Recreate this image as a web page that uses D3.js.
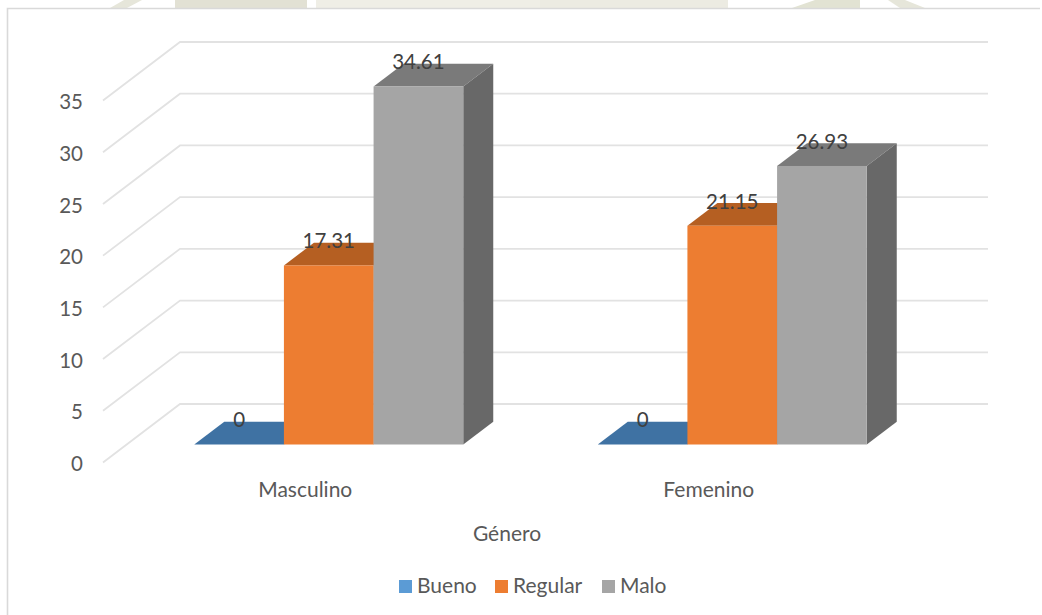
<!DOCTYPE html>
<html>
<head>
<meta charset="utf-8">
<script src="https://d3js.org/d3.v7.min.js"></script>
<style>
  html, body { margin: 0; padding: 0; background: #fff; }
  svg { display: block; font-family: Lato, sans-serif; }
</style>
</head>
<body>
<svg width="1042" height="615"></svg>
<script>
var categories = ["Masculino", "Femenino"];
var series = ["Bueno", "Regular", "Malo"];
var bueno = [0, 0];
var regular = [17.31, 21.15];
var malo = [34.61, 26.93];
var seriesValues = [bueno, regular, malo];
var yTicks = [0, 5, 10, 15, 20, 25, 30, 35];
var axisTitle = "Género";

var frontColor = ["#5b9bd5", "#ed7d31", "#a5a5a5"];
var topColor = ["#3f72a3", "#b55f22", "#7a7a7a"];
var sideColor = ["#35618b", "#a1541e", "#686868"];
var labelSize = 20.5;

var svg = d3.select("svg");

// three planes of the box: bar fronts, back wall, and the left edge of the floor
var depthX = 30, depthY = 22.8;
var yBar = d3.scaleLinear().domain([0, 35]).range([444.5, 82.5]);
var yWall = d3.scaleLinear().domain([0, 35]).range([404, 42]);
var yEdge = d3.scaleLinear().domain([0, 35]).range([462.5, 100.5]);
var wallLeft = 180, wallRight = 988, edgeLeft = 103;

var x0 = d3.scaleBand().domain(categories).range([127, 934]);
var x1 = d3.scaleBand().domain(series)
  .range([x0.bandwidth() / 2 - 134.5, x0.bandwidth() / 2 + 134.5]);

// header band that shows above the chart frame
var strip = svg.append("g");
strip.append("polygon").attr("points", "110,8 127,8 142,0 124,0").attr("fill", "#e6e6da");
strip.append("rect").attr("x", 175).attr("y", 0).attr("width", 132).attr("height", 8).attr("fill", "#e2e1d4");
strip.append("rect").attr("x", 316).attr("y", 0).attr("width", 224).attr("height", 8).attr("fill", "#efeee6");
strip.append("rect").attr("x", 540).attr("y", 0).attr("width", 188).attr("height", 8).attr("fill", "#ecebe2");
strip.append("polygon").attr("points", "792,8 860,8 860,0 815,0").attr("fill", "#e2e3d3");
strip.append("polygon").attr("points", "900,8 925,8 905,0 888,0").attr("fill", "#e6e6da");

// chart frame (top and left edges only reach the window)
svg.append("path")
  .attr("d", "M7.5,615V8.5H1040")
  .attr("fill", "none")
  .attr("stroke", "#d9d9d9")
  .attr("stroke-width", 1.6);

// gridlines bent along the side wall
svg.append("g").selectAll("path")
  .data(yTicks)
  .join("path")
  .attr("d", function (d) {
    return "M" + edgeLeft + "," + yEdge(d) + "L" + wallLeft + "," + yWall(d) + "H" + wallRight;
  })
  .attr("fill", "none")
  .attr("stroke", "#e2e2e2")
  .attr("stroke-width", 1.8);

// value axis labels
var yAxis = svg.append("g")
  .attr("transform", "translate(83,0)")
  .call(d3.axisLeft(yEdge).tickValues(yTicks).tickSize(0).tickPadding(0));
yAxis.select(".domain").remove();
yAxis.selectAll("text")
  .attr("dy", "0.4em")
  .attr("font-family", "Lato, sans-serif")
  .attr("font-size", labelSize)
  .attr("fill", "#595959");

// bars, one group per category
categories.forEach(function (cat, c) {
  var g = svg.append("g").attr("transform", "translate(" + x0(cat) + ",0)");
  series.forEach(function (s, i) {
    var v = seriesValues[i][c];
    var l = x1(s), r = l + x1.bandwidth();
    var yt = yBar(v), yb = yBar(0);
    g.append("polygon")
      .attr("points", [[l, yt], [l + depthX, yt - depthY], [r + depthX, yt - depthY], [r, yt]].join(" "))
      .attr("fill", topColor[i]);
    g.append("polygon")
      .attr("points", [[r, yt], [r + depthX, yt - depthY], [r + depthX, yb - depthY], [r, yb]].join(" "))
      .attr("fill", sideColor[i]);
    g.append("rect")
      .attr("x", l)
      .attr("y", yt)
      .attr("width", x1.bandwidth())
      .attr("height", yb - yt)
      .attr("fill", frontColor[i]);
  });
});

// value labels sit on the back edge of each bar top
categories.forEach(function (cat, c) {
  series.forEach(function (s, i) {
    var v = seriesValues[i][c];
    svg.append("text")
      .attr("x", x0(cat) + x1(s) + x1.bandwidth() / 2)
      .attr("y", yBar(v) - depthY - 1.5)
      .attr("dy", "0.35em")
      .attr("text-anchor", "middle")
      .attr("font-size", labelSize)
      .attr("fill", "#404040")
      .text(v);
  });
});

// category labels
svg.append("g").selectAll("text")
  .data(categories)
  .join("text")
  .attr("x", function (d) { return x0(d) + x0.bandwidth() / 2 - 23.5; })
  .attr("y", 490)
  .attr("dy", "0.35em")
  .attr("text-anchor", "middle")
  .attr("font-size", labelSize + 0.5)
  .attr("fill", "#595959")
  .text(function (d) { return d; });

svg.append("text")
  .attr("x", 507)
  .attr("y", 534)
  .attr("dy", "0.35em")
  .attr("text-anchor", "middle")
  .attr("font-size", labelSize + 0.5)
  .attr("fill", "#595959")
  .text(axisTitle);

// legend
var legendX = [399, 495, 602];
series.forEach(function (s, i) {
  svg.append("rect")
    .attr("x", legendX[i])
    .attr("y", 580)
    .attr("width", 13)
    .attr("height", 13)
    .attr("fill", frontColor[i]);
  svg.append("text")
    .attr("x", legendX[i] + 18)
    .attr("y", 586)
    .attr("dy", "0.35em")
    .attr("font-size", labelSize + 0.5)
    .attr("fill", "#595959")
    .text(s);
});
</script>
</body>
</html>
